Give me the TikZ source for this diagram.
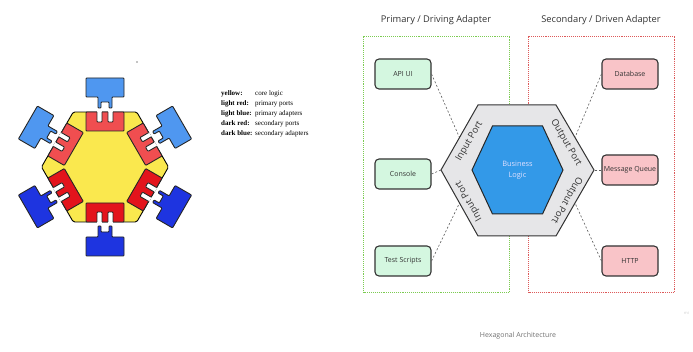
\documentclass[tikz,border=0pt]{standalone}
\usepackage{fontspec}
\usetikzlibrary{calc}
\setmainfont{Liberation Serif}
\newfontfamily\osans{Open Sans}
\definecolor{hexyellow}{HTML}{FAE84E}
\definecolor{lred}{HTML}{F04E50}
\definecolor{dred}{HTML}{E3141C}
\definecolor{lblue}{HTML}{4F97F0}
\definecolor{dblue}{HTML}{1E34E0}
\definecolor{greenfill}{HTML}{D4F7E0}
\definecolor{pinkfill}{HTML}{F9C4C8}
\definecolor{greendot}{HTML}{7CCB52}
\definecolor{reddot}{HTML}{DD5A5A}
\definecolor{hexgray}{HTML}{E6E6E8}
\definecolor{corebl}{HTML}{3399E8}
\definecolor{txtdark}{HTML}{333333}
\begin{document}
\begin{tikzpicture}[x=1pt,y=-1pt,
  legkey/.style={anchor=west,font=\fontsize{7}{8}\selectfont\bfseries,inner sep=0pt},
  legval/.style={anchor=west,font=\fontsize{7}{8}\selectfont,inner sep=0pt},
  title/.style={font=\osans\fontsize{9.3}{11}\selectfont,text=txtdark,inner sep=0pt},
  adapter/.style={draw=txtdark,line width=1.1pt,rounded corners=4pt,minimum width=56pt,minimum height=30pt,font=\osans\fontsize{7}{8}\selectfont,text=txtdark,inner sep=1pt},
  primary/.style={adapter,fill=greenfill},
  secondary/.style={adapter,fill=pinkfill},
  zone/.style={line width=1pt,dash pattern=on 0.9pt off 1pt},
  link/.style={draw=txtdark!80,line width=0.6pt,dash pattern=on 2pt off 2pt},
  portlbl/.style={font=\osans\fontsize{9.4}{10}\selectfont,text=txtdark,inner sep=0pt},
  piece/.style={draw=black!85,line width=0.9pt,rounded corners=0.8pt}
]
\useasboundingbox (0,0) rectangle (693,352);
\fill[white] (0,0) rectangle (693,352);

% ---------------- left diagram ----------------
\fill (137,62) circle (0.7);
\begin{scope}[shift={(105,167)}]
  \draw[fill=hexyellow,line width=0.9pt,rounded corners=1.5pt]
    (0:63.5) -- (60:63.5) -- (120:63.5) -- (180:63.5) -- (240:63.5) -- (300:63.5) -- cycle;
  \foreach \ang/\pc/\ac in {0/lred/lblue,60/lred/lblue,-60/lred/lblue,120/dred/dblue,-120/dred/dblue,180/dred/dblue}{
    \begin{scope}[rotate=\ang]
      \draw[piece,fill=\pc] (-19,-55) -- (19,-55) -- (19,-36) -- (-19,-36) -- cycle;
      \fill[white] (-8,-55.6) rectangle (-3,-45);
      \fill[white] (3,-55.6) rectangle (8,-45);
      \draw[piece] (-8,-55) -- (-8,-45) -- (-3,-45) -- (-3,-55);
      \draw[piece] (3,-55) -- (3,-45) -- (8,-45) -- (8,-55);
      \draw[piece,fill=\ac] (-19,-89) -- (19,-89) -- (19,-70) -- (7,-70) -- (7,-59) -- (4,-59) -- (4,-65) -- (-4,-65) -- (-4,-59) -- (-7,-59) -- (-7,-70) -- (-19,-70) -- cycle;
    \end{scope}
  }
\end{scope}

% legend
\node[legkey] (k1) at (221,93.5) {yellow:};
\node[legkey] (k2) at (221,103.5) {light red:};
\node[legkey] (k3) at (221,113.5) {light blue:};
\node[legkey] (k4) at (221,123.5) {dark red:};
\node[legkey] (k5) at (221,133.5) {dark blue:};
\node[legval] (v1) at (255,93.5) {core logic};
\node[legval] (v2) at (255,103.5) {primary ports};
\node[legval] (v3) at (255,113.5) {primary adapters};
\node[legval] (v4) at (255,123.5) {secondary ports};
\node[legval] (v5) at (255,133.5) {secondary adapters};

% ---------------- right diagram ----------------
\node[title] (t1) at (436,20) {Primary / Driving Adapter};
\node[title] (t2) at (601,20) {Secondary / Driven Adapter};

\draw[zone,draw=greendot] (363,37) rectangle (509,293);
\draw[zone,draw=reddot] (528,37) rectangle (674,293);

\node[primary] (api) at (403,74) {API UI};
\node[primary] (console) at (403,174) {Console};
\node[primary] (tests) at (403,261) {Test Scripts};
\node[secondary] (db) at (630,74) {Database};
\node[secondary] (mq) at (630,170) {Message Queue};
\node[secondary] (http) at (630,261) {HTTP};

\coordinate (hL) at (441,170);
\coordinate (hTL) at (478,105);
\coordinate (hTR) at (556,105);
\coordinate (hR) at (594,170);
\coordinate (hBR) at (556,236);
\coordinate (hBL) at (478,236);

\draw[link] (api.east) -- ($(hL)!0.5!(hTL)$);
\draw[link] (db.west) -- ($(hR)!0.5!(hTR)$);
\draw[link] (console.east) -- (hL);
\draw[link] (mq.west) -- (hR);
\draw[link] (tests.east) -- ($(hL)!0.5!(hBL)$);
\draw[link] (http.west) -- ($(hR)!0.5!(hBR)$);

\draw[fill=hexgray,draw=txtdark,line width=1pt] (hL) -- (hTL) -- (hTR) -- (hR) -- (hBR) -- (hBL) -- cycle;
\draw[fill=corebl,draw=black!85,line width=1pt] (472,170) -- (492.5,126) -- (542.5,126) -- (563,170) -- (542.5,214) -- (492.5,214) -- cycle;
\node[font=\osans\fontsize{7.4}{11}\selectfont,text=white!88!blue,align=center,inner sep=0pt] (core) at (517.5,170) {Business\\Logic};

\node[portlbl,rotate=60] (ip1) at (469.5,141.5) {Input Port};
\node[portlbl,rotate=-60] (op1) at (566,143) {Output Port};
\node[portlbl,rotate=120] (ip2) at (469,201) {Input Port};
\node[portlbl,rotate=-120] (op2) at (566.5,200) {Output Port};

\node[font=\osans\fontsize{7}{8}\selectfont,text=black!55,inner sep=0pt] (cap) at (518,336) {Hexagonal Architecture};
\node[font=\osans\fontsize{4}{5}\selectfont,text=black!20,anchor=west,inner sep=0pt] (wm) at (684,313) {mi};
\end{tikzpicture}
\end{document}
